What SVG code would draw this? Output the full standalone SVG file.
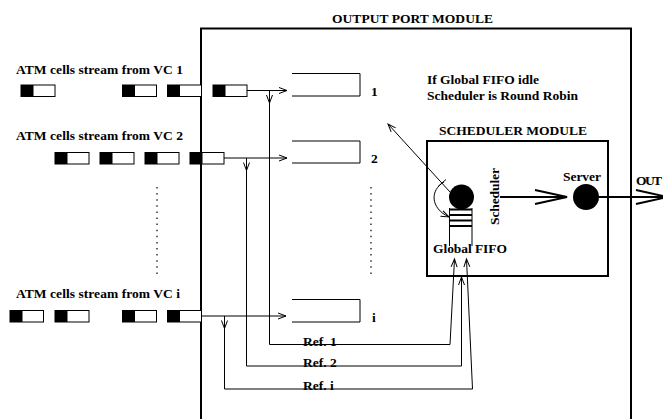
<svg xmlns="http://www.w3.org/2000/svg" width="663" height="419" viewBox="0 0 663 419">
<defs>
<marker id="a" markerUnits="userSpaceOnUse" markerWidth="12" markerHeight="10" refX="9" refY="4" orient="auto" overflow="visible">
<path d="M1,1 L9,4 L1,7" fill="none" stroke="#000" stroke-width="1"/>
</marker>
<marker id="big" markerUnits="userSpaceOnUse" markerWidth="40" markerHeight="20" refX="32" refY="8" orient="auto" overflow="visible">
<path d="M0,1 L32,8 L0,15" fill="none" stroke="#000" stroke-width="2"/>
</marker>
</defs>
<style>
text{font-family:"Liberation Serif","Times New Roman",serif;font-weight:bold;font-size:13.5px;fill:#000}
.cell{fill:#fff;stroke:#000;stroke-width:1}
.blk{fill:#000}
.q{fill:none;stroke:#000;stroke-width:1}
.ln{fill:none;stroke:#000;stroke-width:1}
.thk{fill:none;stroke:#000;stroke-width:2}
.dot{fill:none;stroke:#000;stroke-width:1.2;stroke-dasharray:1.5 4.6}
</style>
<rect width="663" height="419" fill="#fff"/>

<g id="output-port-module">
<rect x="201" y="28.5" width="430" height="400" class="thk"/>
<text x="332" y="22.5" textLength="161">OUTPUT PORT MODULE</text>
<text x="427" y="84" textLength="112">If Global FIFO idle</text>
<text x="427" y="100" textLength="151">Scheduler is Round Robin</text>
<line x1="371" y1="187" x2="371" y2="277" class="dot"/>
</g>

<g id="vc1">
<text x="16" y="74" textLength="167">ATM cells stream from VC 1</text>
<rect x="21" y="85" width="34" height="11.5" class="cell"/><rect x="21" y="85" width="12.5" height="11.5" class="blk"/>
<rect x="122.5" y="85" width="34" height="11.5" class="cell"/><rect x="122.5" y="85" width="12.5" height="11.5" class="blk"/>
<rect x="167.5" y="85" width="34" height="11.5" class="cell"/><rect x="167.5" y="85" width="12.5" height="11.5" class="blk"/>
<rect x="213" y="85" width="34" height="11.5" class="cell"/><rect x="213" y="85" width="12.5" height="11.5" class="blk"/>
</g>

<g id="vc2">
<text x="16" y="140" textLength="167">ATM cells stream from VC 2</text>
<rect x="55" y="152.5" width="34" height="11.5" class="cell"/><rect x="55" y="152.5" width="12.5" height="11.5" class="blk"/>
<rect x="100" y="152.5" width="34" height="11.5" class="cell"/><rect x="100" y="152.5" width="12.5" height="11.5" class="blk"/>
<rect x="145" y="152.5" width="34" height="11.5" class="cell"/><rect x="145" y="152.5" width="12.5" height="11.5" class="blk"/>
<rect x="190" y="152.5" width="34" height="11.5" class="cell"/><rect x="190" y="152.5" width="12.5" height="11.5" class="blk"/>
<line x1="157" y1="187" x2="157" y2="277" class="dot"/>
</g>

<g id="vci">
<text x="16" y="298" textLength="164">ATM cells stream from VC i</text>
<rect x="10" y="310.5" width="33.5" height="11.5" class="cell"/><rect x="10" y="310.5" width="12.5" height="11.5" class="blk"/>
<rect x="55" y="310.5" width="34" height="11.5" class="cell"/><rect x="55" y="310.5" width="12.5" height="11.5" class="blk"/>
<rect x="122.5" y="310.5" width="34" height="11.5" class="cell"/><rect x="122.5" y="310.5" width="12.5" height="11.5" class="blk"/>
<rect x="167.5" y="310.5" width="34" height="11.5" class="cell"/><rect x="167.5" y="310.5" width="12.5" height="11.5" class="blk"/>
</g>

<g id="queue1">
<path d="M292,73.5 H360 V96 H292" class="q"/>
<text x="371" y="96">1</text>
</g>
<g id="queue2">
<path d="M292,141 H360 V163 H292" class="q"/>
<text x="371" y="163">2</text>
</g>
<g id="queuei">
<path d="M292,299.5 H360 V322 H292" class="q"/>
<text x="372" y="322">i</text>
</g>

<g id="scheduler-module">
<rect x="427" y="141" width="181" height="135" class="thk"/>
<text x="439" y="135" textLength="148">SCHEDULER MODULE</text>
<circle cx="461.5" cy="197" r="12.5" fill="#000"/>
<text transform="translate(499,196.5) rotate(-90)" text-anchor="middle" textLength="57">Scheduler</text>
<line x1="449.5" y1="208" x2="449.5" y2="246" class="ln"/>
<line x1="472" y1="208" x2="472" y2="246" class="ln"/>
<path d="M449.5,209.5 H472 M449.5,215 H472 M449.5,220.5 H472 M449.5,226 H472" class="thk"/>
<text x="433" y="253" textLength="74">Global FIFO</text>
</g>

<g id="server">
<circle cx="586" cy="197" r="13" fill="#000"/>
<text x="582" y="181" text-anchor="middle" textLength="38">Server</text>
</g>

<g id="output">
<text x="636" y="185" textLength="26">OUT</text>
</g>

<g id="connectors">
<line x1="247" y1="90.5" x2="287" y2="90.5" class="ln" marker-end="url(#a)"/>
<line x1="224" y1="158" x2="287" y2="158" class="ln" marker-end="url(#a)"/>
<line x1="201" y1="316" x2="286" y2="316" class="ln" marker-end="url(#a)"/>
<line x1="269.5" y1="90.5" x2="269.5" y2="103" class="ln" marker-end="url(#a)"/>
<line x1="246.5" y1="158" x2="246.5" y2="170.5" class="ln" marker-end="url(#a)"/>
<line x1="224.5" y1="316" x2="224.5" y2="328.5" class="ln" marker-end="url(#a)"/>
<path d="M269.5,90.5 V344.5 H450 L454.5,259" class="ln" marker-end="url(#a)"/>
<path d="M246.5,158 V366 H461.5 V277" class="ln" marker-end="url(#a)"/>
<path d="M224.5,316 V389 H472.5 L466.5,259" class="ln" marker-end="url(#a)"/>
<line x1="450" y1="192" x2="388" y2="124" class="ln" marker-end="url(#a)"/>
<path d="M444,182 C430,190 430,208 449,217" class="ln" marker-end="url(#a)"/>
<line x1="438" y1="186.5" x2="446" y2="179.5" class="ln"/>
<line x1="500" y1="197" x2="567" y2="197" class="thk" marker-end="url(#big)"/>
<line x1="599" y1="197" x2="668" y2="197" class="thk" marker-end="url(#big)"/>
<text x="303" y="345.5">Ref. 1</text>
<text x="303" y="367">Ref. 2</text>
<text x="303" y="390">Ref. i</text>
</g>
</svg>
